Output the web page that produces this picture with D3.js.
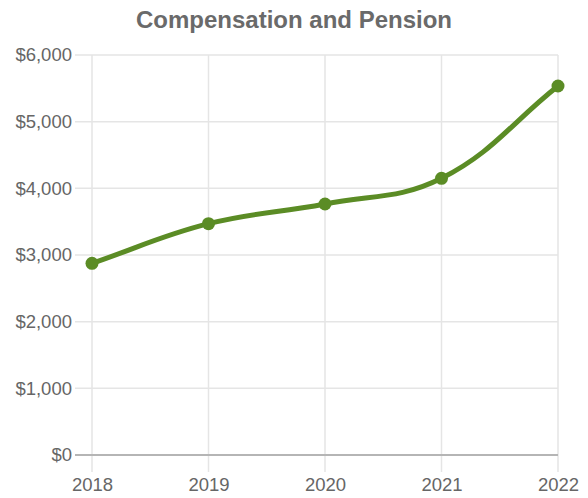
<!DOCTYPE html>
<html>
<head>
<meta charset="utf-8">
<script src="https://cdn.jsdelivr.net/npm/d3@7"></script>
<style>
  html, body { margin: 0; padding: 0; background: #fff; }
  svg text { font-family: "Liberation Sans", Arial, Helvetica, sans-serif; }
</style>
</head>
<body>
<svg id="chart" width="588" height="498"></svg>
<script>
const years = ["2018", "2019", "2020", "2021", "2022"];
const values = [2875, 3470, 3765, 4150, 5535];
const yTicks = [0, 1000, 2000, 3000, 4000, 5000, 6000];
const title = "Compensation and Pension";

(function () {
const svg = d3.select("#chart");
const mLeft = 92, mRight = 558, mTop = 55, mBottom = 455, tickLen = 17;

const x = d3.scalePoint().domain(years).range([mLeft, mRight]);
const y = d3.scaleLinear().domain([0, 6000]).range([mBottom, mTop]);

// title
svg.append("text")
  .attr("x", 294).attr("y", 28)
  .attr("text-anchor", "middle")
  .attr("fill", "#6a6a6a")
  .style("font-size", "24px").style("font-weight", "bold")
  .text(title);

// horizontal grid
svg.append("g").selectAll("line").data(yTicks.filter(d => d !== 0)).join("line")
  .attr("x1", mLeft - tickLen).attr("x2", mRight)
  .attr("y1", d => y(d)).attr("y2", d => y(d))
  .attr("stroke", "#e5e5e5").attr("stroke-width", 1.5);

// vertical grid
svg.append("g").selectAll("line").data(years).join("line")
  .attr("x1", d => x(d)).attr("x2", d => x(d))
  .attr("y1", mTop).attr("y2", mBottom + tickLen)
  .attr("stroke", "#e5e5e5").attr("stroke-width", 1.5);

// zero line
svg.append("line")
  .attr("x1", mLeft - tickLen).attr("x2", mRight)
  .attr("y1", y(0)).attr("y2", y(0))
  .attr("stroke", "#b5b5b5").attr("stroke-width", 2);

// y axis labels
const yAxis = d3.axisLeft(y).tickValues(yTicks).tickSize(0).tickPadding(20)
  .tickFormat(d => "$" + d3.format(",")(d));
const gy = svg.append("g").attr("transform", `translate(${mLeft},0)`).call(yAxis);
gy.select(".domain").remove();
gy.selectAll("text").attr("fill", "#666").style("font-size", "18.5px")
  .attr("font-family", null);

// x axis labels
const xAxis = d3.axisBottom(x).tickSize(0).tickPadding(23);
const gx = svg.append("g").attr("transform", `translate(0,${mBottom})`).call(xAxis);
gx.select(".domain").remove();
gx.selectAll("text").attr("fill", "#666").style("font-size", "18.5px")
  .attr("font-family", null);

// Chart.js-like bezier spline (tension 0.4)
const pts = years.map((yr, i) => ({ x: x(yr), y: y(values[i]) }));
const t = 0.4;
const ctrl = pts.map((p, i) => {
  const prev = pts[i - 1] || p, next = pts[i + 1] || p;
  const d01 = Math.hypot(p.x - prev.x, p.y - prev.y);
  const d12 = Math.hypot(next.x - p.x, next.y - p.y);
  let s01 = d01 / (d01 + d12), s12 = d12 / (d01 + d12);
  if (isNaN(s01)) s01 = 0; if (isNaN(s12)) s12 = 0;
  const fa = t * s01, fb = t * s12;
  return {
    prev: { x: p.x - fa * (next.x - prev.x), y: p.y - fa * (next.y - prev.y) },
    next: { x: p.x + fb * (next.x - prev.x), y: p.y + fb * (next.y - prev.y) }
  };
});
const path = d3.path();
path.moveTo(pts[0].x, pts[0].y);
for (let i = 1; i < pts.length; i++) {
  const c1 = ctrl[i - 1].next, c2 = ctrl[i].prev;
  path.bezierCurveTo(c1.x, c1.y, c2.x, c2.y, pts[i].x, pts[i].y);
}
const color = "#5b8c25";
svg.append("path").attr("d", path.toString())
  .attr("fill", "none").attr("stroke", color).attr("stroke-width", 5)
  .attr("stroke-linecap", "round").attr("stroke-linejoin", "round");

svg.append("g").selectAll("circle").data(pts).join("circle")
  .attr("cx", d => d.x).attr("cy", d => d.y).attr("r", 6.5)
  .attr("fill", color);
})();
</script>
</body>
</html>
